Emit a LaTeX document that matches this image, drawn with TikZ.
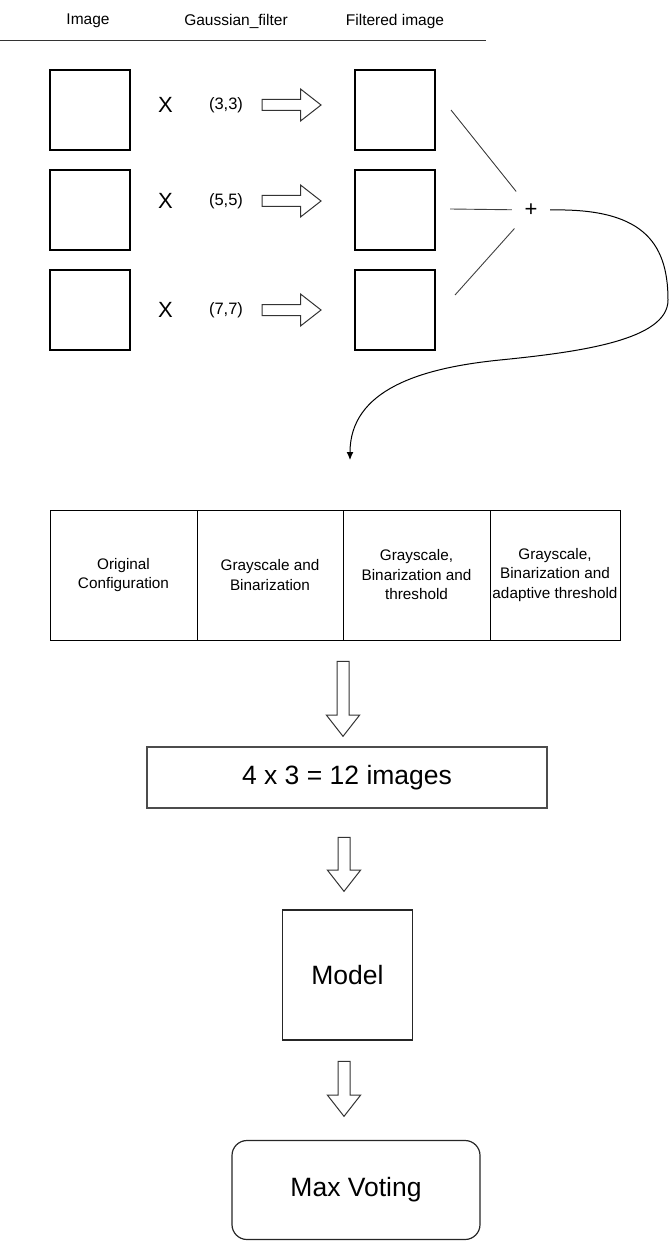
\documentclass[tikz,border=0pt]{standalone}
\usepackage{fontspec}
\setmainfont{Liberation Sans}
\usepackage{tikz}
\usetikzlibrary{positioning}
\usetikzlibrary{shapes.arrows,arrows.meta}

\begin{document}
\begin{tikzpicture}[
    x=1pt, y=-1pt,
    >={Latex[length=8pt,width=7pt]},
    imgbox/.style={rectangle, draw, line width=1.2pt, minimum width=80pt, minimum height=80pt, inner sep=0pt},
    headtxt/.style={inner sep=0pt, font=\fontsize{15.5}{19}\selectfont},
    multtxt/.style={inner sep=0pt, font=\fontsize{22}{26}\selectfont},
    sizetxt/.style={inner sep=0pt, font=\fontsize{16.5}{20}\selectfont},
    cell/.style={rectangle, draw, line width=1pt, minimum height=130pt, inner xsep=1pt, outer sep=0pt,
    align=center, font=\fontsize{15.3}{19.5}\selectfont},
    bigbox/.style={rectangle, draw=black!85, line width=1.2pt, font=\fontsize{26.5}{30}\selectfont},
    rarrow/.style={single arrow, draw=black!80, line width=1pt, inner xsep=0pt, inner ysep=5pt,
    minimum height=59pt, single arrow head extend=10.5pt, single arrow tip angle=76},
    darrow/.style={rarrow, shape border rotate=270, inner xsep=5.5pt, inner ysep=0pt},
    link/.style={draw=black!75, line width=0.9pt},
    flowline/.style={draw, line width=1pt, ->}
    ]
\useasboundingbox (0,0) rectangle (669,1241);

%header
\node[headtxt] (hdimg) at (88,21) {Image};
\node[headtxt] (hdgau) at (236,21) {Gaussian\_filter};
\node[headtxt] (hdflt) at (395,21) {Filtered image};
\draw[line width=1pt, black!80] (0,41) -- (486,41);

%three filter rows
\foreach \n/\sy/\ty/\k in {1/110/105/3, 2/210/201/5, 3/310/310/7} {
    \node[imgbox] (img\n) at (90,\sy) {};
    \node[multtxt] (x\n) at (165.5,\ty) {X};
    \node[sizetxt] (k\n) at (226,\ty) {(\k,\k)};
    \node[rarrow] (ar\n) at (288,\ty) {};
    \node[imgbox] (flt\n) at (395,\sy) {};
}

%sum of the filtered images
\node[inner xsep=12.5pt, inner ysep=12pt, font=\fontsize{22}{26}\selectfont] (plus) at (531,210) {+};
\coordinate (s1) at (451,110);
\coordinate (s2) at (450,209);
\coordinate (s3) at (455,295);
\draw[link] (s1) -- (plus);
\draw[link] (s2) -- (plus);
\draw[link] (s3) -- (plus);
\coordinate (tip) at (350,460);
\draw[flowline] (plus.east) .. controls (640,208) and (668,240) .. (668,300)
    .. controls (668,340) and (580,352) .. (500,360)
    .. controls (420,368) and (350,390) .. (tip);

%configurations
\node[cell, minimum width=147pt, anchor=north west] (c1) at (50,510) {Original\\Configuration};
\node[cell, minimum width=146pt, right=0pt of c1] (c2) {Grayscale and\\Binarization};
\node[cell, minimum width=147pt, right=0pt of c2] (c3) {Grayscale,\\Binarization and\\threshold};
\node[cell, minimum width=130pt, right=0pt of c3] (c4) {Grayscale,\\Binarization and\\adaptive threshold};

%pipeline
\node[darrow, minimum height=75pt] (d1) at (343,695) {};
\node[bigbox, draw=black!70, minimum width=400pt, minimum height=61pt] (res) at (347,777.5) {4 x 3 = 12 images};
\node[darrow, minimum height=54pt] (d2) at (344,860.5) {};
\node[bigbox, minimum width=130pt, minimum height=130pt] (model) at (347.5,975) {Model};
\node[darrow, minimum height=55pt] (d3) at (344,1085) {};
\node[bigbox, rounded corners=15pt, minimum width=248pt, minimum height=99pt] (vote) at (356,1190) {Max Voting};
\end{tikzpicture}
\end{document}
